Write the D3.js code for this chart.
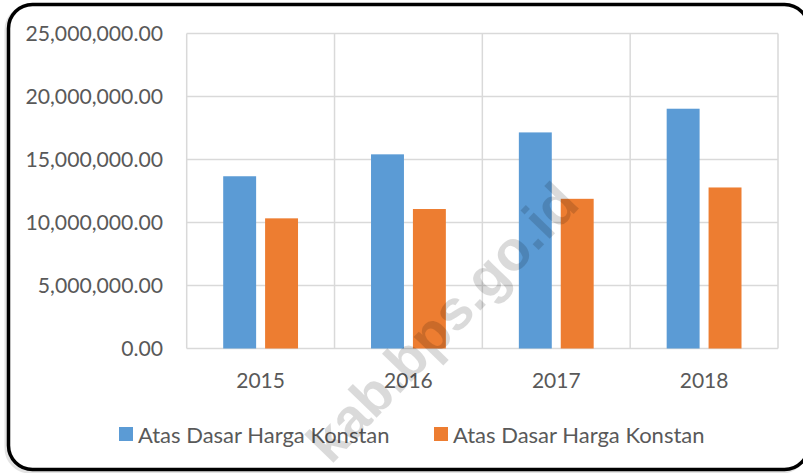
<!DOCTYPE html>
<html><head><meta charset="utf-8">
<script src="https://cdn.jsdelivr.net/npm/d3@7"></script>
<style>html,body{margin:0;padding:0;background:#fff;}svg{display:block;}</style>
</head><body>
<svg id="c" width="803" height="473"></svg>
<script>
const categories = ["2015", "2016", "2017", "2018"];
const seriesNames = ["Atas Dasar Harga Konstan", "Atas Dasar Harga Konstan"];
const seriesA = [13670000, 15410000, 17150000, 19030000];
const seriesB = [10330000, 11070000, 11880000, 12780000];
const yTicks = [0, 5000000, 10000000, 15000000, 20000000, 25000000];
const colors = ["#5b9bd5", "#ed7d31"];

const svg = d3.select("#c");
const font = "Lato, 'Open Sans', sans-serif";

// shadow + border
svg.append("rect").attr("x", 6).attr("y", 6).attr("width", 800).attr("height", 466).attr("rx", 24)
  .attr("fill", "none").attr("stroke", "#d0d0d0").attr("stroke-width", 3).attr("opacity", 0.6);
svg.append("rect").attr("x", 8.5).attr("y", 4.5).attr("width", 800).attr("height", 465).attr("rx", 24)
  .attr("fill", "#fff").attr("stroke", "#000").attr("stroke-width", 3.5);

const x = d3.scaleBand().domain(categories).range([186.7, 778]).padding(0);
const x1 = d3.scaleBand().domain([0, 1]).range([36.5, x.bandwidth() - 36.5]).paddingInner(0.214);
const y = d3.scaleLinear().domain([0, 25000000]).range([348.5, 33.5]);
const fmt = d3.format(",.2f");

const grid = svg.append("g").attr("stroke", "#d9d9d9").attr("stroke-width", 1.5);
yTicks.forEach(t => grid.append("line").attr("x1", x.range()[0]).attr("x2", x.range()[1]).attr("y1", y(t)).attr("y2", y(t)));
categories.forEach(c => grid.append("line").attr("x1", x(c)).attr("x2", x(c)).attr("y1", y(25000000)).attr("y2", y(0)));
grid.append("line").attr("x1", x.range()[1]).attr("x2", x.range()[1]).attr("y1", y(25000000)).attr("y2", y(0));

const series = [seriesA, seriesB];
series.forEach((vals, si) => {
  svg.append("g").selectAll("rect").data(vals).join("rect")
    .attr("x", (d, i) => x(categories[i]) + x1(si))
    .attr("width", x1.bandwidth())
    .attr("y", d => y(d))
    .attr("height", d => y(0) - y(d))
    .attr("fill", colors[si]);
});

// y labels
svg.append("g").selectAll("text").data(yTicks).join("text")
  .attr("x", 163).attr("y", d => y(d)).attr("dy", "0.35em")
  .attr("text-anchor", "end").attr("font-family", font).attr("font-size", 21.2).attr("fill", "#595959")
  .text(d => fmt(d));

// x labels
svg.append("g").selectAll("text").data(categories).join("text")
  .attr("x", d => x(d) + x.bandwidth() / 2).attr("y", 381).attr("dy", "0.35em")
  .attr("text-anchor", "middle").attr("font-family", font).attr("font-size", 21).attr("fill", "#595959")
  .text(d => d);

// legend
const legX = [119, 434];
seriesNames.forEach((n, i) => {
  svg.append("rect").attr("x", legX[i]).attr("y", 427).attr("width", 14).attr("height", 14).attr("fill", colors[i]);
  svg.append("text").attr("x", legX[i] + 19).attr("y", 435).attr("dy", "0.35em")
    .attr("font-family", font).attr("font-size", 22).attr("fill", "#595959").text(n);
});

// watermark
svg.append("text").attr("transform", "translate(442,322) rotate(-46)")
  .attr("text-anchor", "middle").attr("dy", "0.35em")
  .attr("font-family", "'Liberation Sans', Arial, sans-serif").attr("font-weight", "bold").attr("font-size", 56)
  .attr("fill", "#000").attr("opacity", 0.14).text("kab.bps.go.id");
</script>
</body></html>
